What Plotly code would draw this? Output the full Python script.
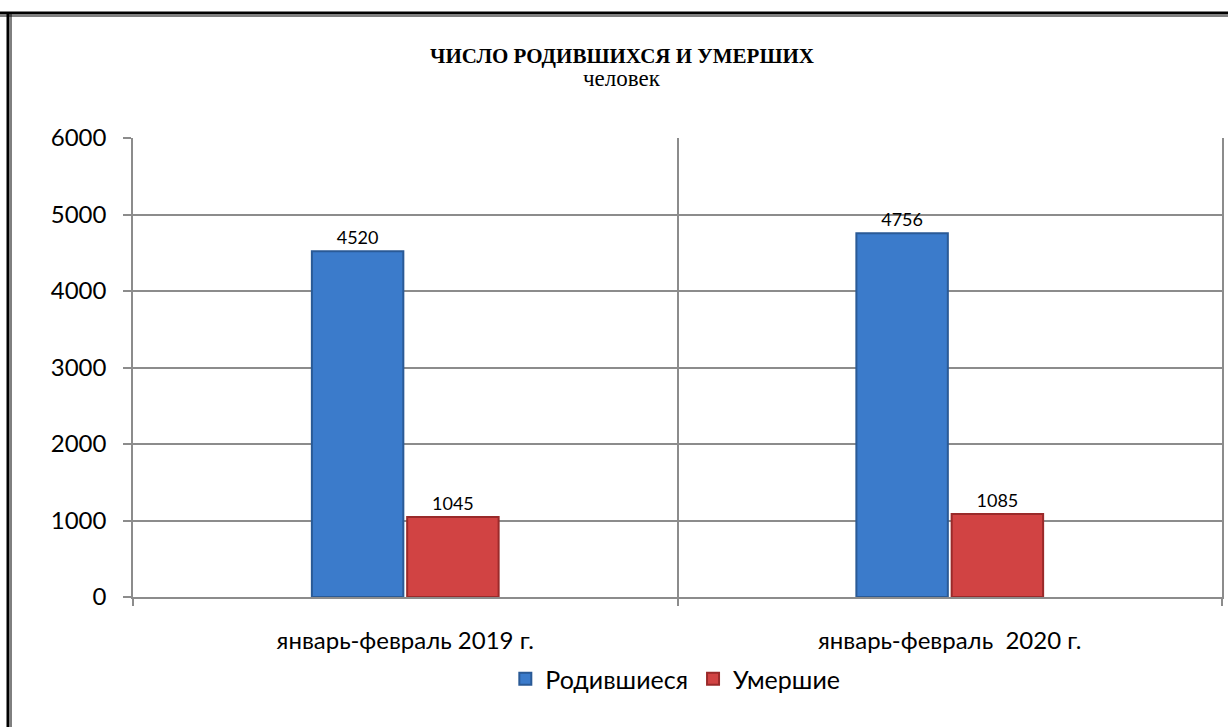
import plotly.graph_objects as go

# данные с графика
categories = ['январь-февраль 2019 г.', 'январь-февраль  2020 г.']
born = [4520, 4756]
died = [1045, 1085]
y_ticks = [0, 1000, 2000, 3000, 4000, 5000, 6000]

fig = go.Figure()

fig.add_trace(go.Bar(
    x=categories, y=born, name='Родившиеся',
    marker=dict(color='#3b7bcb', line=dict(color='#2a5a96', width=2)),
    text=born, textposition='outside', cliponaxis=False,
    textfont=dict(family='Lato, Carlito, sans-serif', size=18, color='black'),
))
fig.add_trace(go.Bar(
    x=categories, y=died, name='Умершие',
    marker=dict(color='#d14343', line=dict(color='#9a2a2a', width=2)),
    text=died, textposition='outside', cliponaxis=False,
    textfont=dict(family='Lato, Carlito, sans-serif', size=18, color='black'),
))

# рамка документа (двойная линия сверху и слева)
L, R, T, B = 133, 1222, 138, 597
W, H = R - L, B - T


def px_x(v):
    return (v - L) / W


def px_y(v):
    return (B - v) / H


frame = []
for y0, w in [(13, 3), (16, 1)]:
    frame.append(dict(type='line', xref='paper', yref='paper',
                      x0=px_x(0), x1=px_x(1228), y0=px_y(y0), y1=px_y(y0),
                      line=dict(color='black', width=w)))
for x0, w in [(8, 3), (11, 1)]:
    frame.append(dict(type='line', xref='paper', yref='paper',
                      x0=px_x(x0), x1=px_x(x0), y0=px_y(13), y1=px_y(727),
                      line=dict(color='black', width=w)))

serif = 'Liberation Serif, Times New Roman, serif'
titles = [
    dict(text='<b>ЧИСЛО РОДИВШИХСЯ И УМЕРШИХ</b>', x=px_x(622), y=px_y(56),
         font=dict(family=serif, size=21, color='black')),
    dict(text='человек', x=px_x(622), y=px_y(79),
         font=dict(family=serif, size=23, color='black')),
]
for a in titles:
    a.update(xref='paper', yref='paper', xanchor='center', yanchor='middle', showarrow=False)

fig.update_layout(
    width=1228, height=727,
    margin=dict(l=L, r=1228 - R, t=T, b=727 - B, autoexpand=False),
    paper_bgcolor='white', plot_bgcolor='white',
    barmode='group', bargap=0.65, bargroupgap=0.04,
    font=dict(family='Lato, Carlito, sans-serif', color='black'),
    legend=dict(
        orientation='h', x=0.498, xanchor='center', y=px_y(656), yanchor='top',
        font=dict(size=25), traceorder='normal', itemwidth=30,
    ),
    annotations=titles,
    shapes=frame,
)

fig.update_xaxes(
    type='category', tickson='boundaries',
    showgrid=True, gridcolor='#8c8c8c', gridwidth=1.5,
    showline=True, linecolor='#8c8c8c', linewidth=1.5,
    ticks='outside', ticklen=7, tickcolor='#8c8c8c', tickwidth=1.5,
    tickfont=dict(size=24), ticklabelstandoff=21, range=[-0.5, 1.5],
)
fig.update_yaxes(
    range=[0, 6000], tickvals=y_ticks,
    showgrid=True, gridcolor='#8c8c8c', gridwidth=1.5,
    showline=True, linecolor='#8c8c8c', linewidth=1.5, mirror=True,
    ticks='outside', ticklen=8, tickcolor='#8c8c8c', tickwidth=1.5,
    tickfont=dict(size=24), ticklabelstandoff=12, zeroline=False,
)

# убираем стандартный отступ страницы, чтобы картинка легла ровно
fig.write_html('out.html', config={'displayModeBar': False},
               post_script="document.body.style.margin='0';")
